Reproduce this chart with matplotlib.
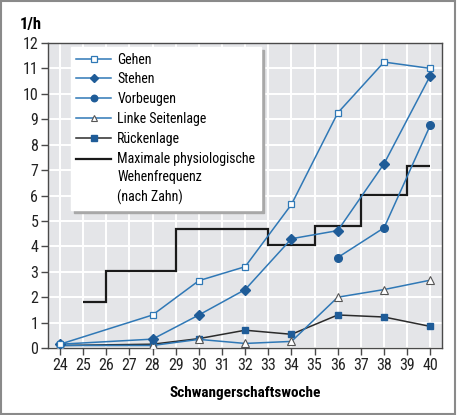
import matplotlib
matplotlib.use("Agg")
import matplotlib.pyplot as plt
from matplotlib.patches import Rectangle
from matplotlib.lines import Line2D
from matplotlib.legend_handler import HandlerBase
from matplotlib import font_manager

available = {f.name for f in font_manager.fontManager.ttflist}
preferred = ['Liberation Sans Narrow', 'Roboto Condensed', 'Open Sans Condensed',
             'Noto Sans Condensed', 'DejaVu Sans Condensed', 'Liberation Sans']
family = [f for f in preferred if f in available] + ['DejaVu Sans']
plt.rcParams['font.family'] = family
narrow = family[0] != 'Liberation Sans'

weeks = [24, 28, 30, 32, 34, 36, 38, 40]
gehen = [0.15, 1.3, 2.65, 3.2, 5.65, 9.25, 11.25, 11.0]
stehen = [0.15, 0.35, 1.3, 2.3, 4.3, 4.62, 7.25, 10.72]
vorbeugen_weeks = [36, 38, 40]
vorbeugen = [3.56, 4.73, 8.77]
linke = [0.1, 0.1, 0.34, 0.18, 0.26, 2.0, 2.3, 2.67]
ruecken = [0.1, 0.15, 0.37, 0.7, 0.54, 1.3, 1.22, 0.85]
step_edges = [25, 26, 29, 33, 35, 37, 39, 40]
step_levels = [1.8, 3.04, 4.7, 4.06, 4.82, 6.02, 7.17]

xticks = list(range(24, 41))
yticks = list(range(0, 13))

blue = '#2f78b6'
dark = '#1f5c98'
LINESP = 1.42

fig = plt.figure(figsize=(4.57, 4.15), dpi=100)
fig.patch.set_facecolor('white')
fig.patches.append(Rectangle((0.002, 0.003), 0.994, 0.994, transform=fig.transFigure,
                             fill=False, edgecolor='#8a8a8a', linewidth=1.5))
ax = fig.add_axes([0.105, 0.1614, 0.862, 0.735])
ax.set_facecolor('#e4e5e8')
ax.set_xlim(23.48, 40.5)
ax.set_ylim(0, 12)
ax.set_xticks(xticks)
ax.set_yticks(yticks)
ax.grid(True, color='white', linewidth=1.4)
ax.set_axisbelow(True)
for s in ax.spines.values():
    s.set_color('#4a4a4a')
    s.set_linewidth(1.0)
tick_fs = 11.5 if narrow else 10.5
ax.tick_params(direction='out', length=5, width=1, color='#4a4a4a', labelsize=tick_fs,
               labelcolor='#222222', pad=2)

step_label = 'Maximale physiologische\nWehenfrequenz\n(nach Zahn)'
ax.stairs(step_levels, step_edges, color='#1a1a1a', linewidth=1.6, baseline=None,
          zorder=2)

ax.plot(weeks, ruecken, color='#2b2b2b', lw=1.1, marker='s', ms=5,
        mfc=dark, mec=dark, label='Rückenlage', zorder=3)
ax.plot(weeks, linke, color=blue, lw=1.1, marker='^', ms=5.5,
        mfc='white', mec='#555555', mew=0.8, label='Linke Seitenlage', zorder=4)
ax.plot(vorbeugen_weeks, vorbeugen, color=blue, lw=1.1, marker='o', ms=5.5,
        mfc=dark, mec=dark, label='Vorbeugen', zorder=4)
ax.plot(weeks, stehen, color=blue, lw=1.1, marker='D', ms=5,
        mfc=dark, mec=dark, label='Stehen', zorder=4)
ax.plot(weeks, gehen, color=blue, lw=1.1, marker='s', ms=5,
        mfc='white', mec=blue, mew=0.9, label='Gehen', zorder=5)


class UpperLineHandler(HandlerBase):
    def create_artists(self, legend, orig_handle, xdescent, ydescent, width, height,
                       fontsize, trans):
        y = height / 2 - ydescent + fontsize * LINESP
        line = Line2D([-xdescent, -xdescent + width], [y, y],
                      color=orig_handle.get_color(), lw=orig_handle.get_linewidth())
        line.set_transform(trans)
        return [line]


handles, labels = ax.get_legend_handles_labels()
hmap = dict(zip(labels, handles))
step_handle = Line2D([], [], color='#1a1a1a', lw=1.6)
hmap[step_label] = step_handle
order = ['Gehen', 'Stehen', 'Vorbeugen', 'Linke Seitenlage', 'Rückenlage', step_label]
leg_fs = 10 if narrow else 8.5
leg = ax.legend([hmap[k] for k in order], order, loc='upper left',
                bbox_to_anchor=(0.058, 0.987), frameon=True, fancybox=False,
                shadow={'color': '#a8a8a8', 'alpha': 1}, framealpha=1,
                edgecolor='white', fontsize=leg_fs, handlelength=2.5,
                borderpad=0.4, labelspacing=0.42, handletextpad=0.45,
                borderaxespad=0, markerscale=0.85,
                handler_map={step_handle: UpperLineHandler()})
for t in leg.get_texts():
    t.set_linespacing(LINESP)
leg.set_zorder(10)

fig.text(0.043, 0.942, '1/h', fontsize=12, fontweight='bold', ha='left', va='center')
fig.text(0.536, 0.053, 'Schwangerschaftswoche', fontsize=11, fontweight='bold',
         ha='center', va='center')

fig.savefig('out.png', dpi=100)
